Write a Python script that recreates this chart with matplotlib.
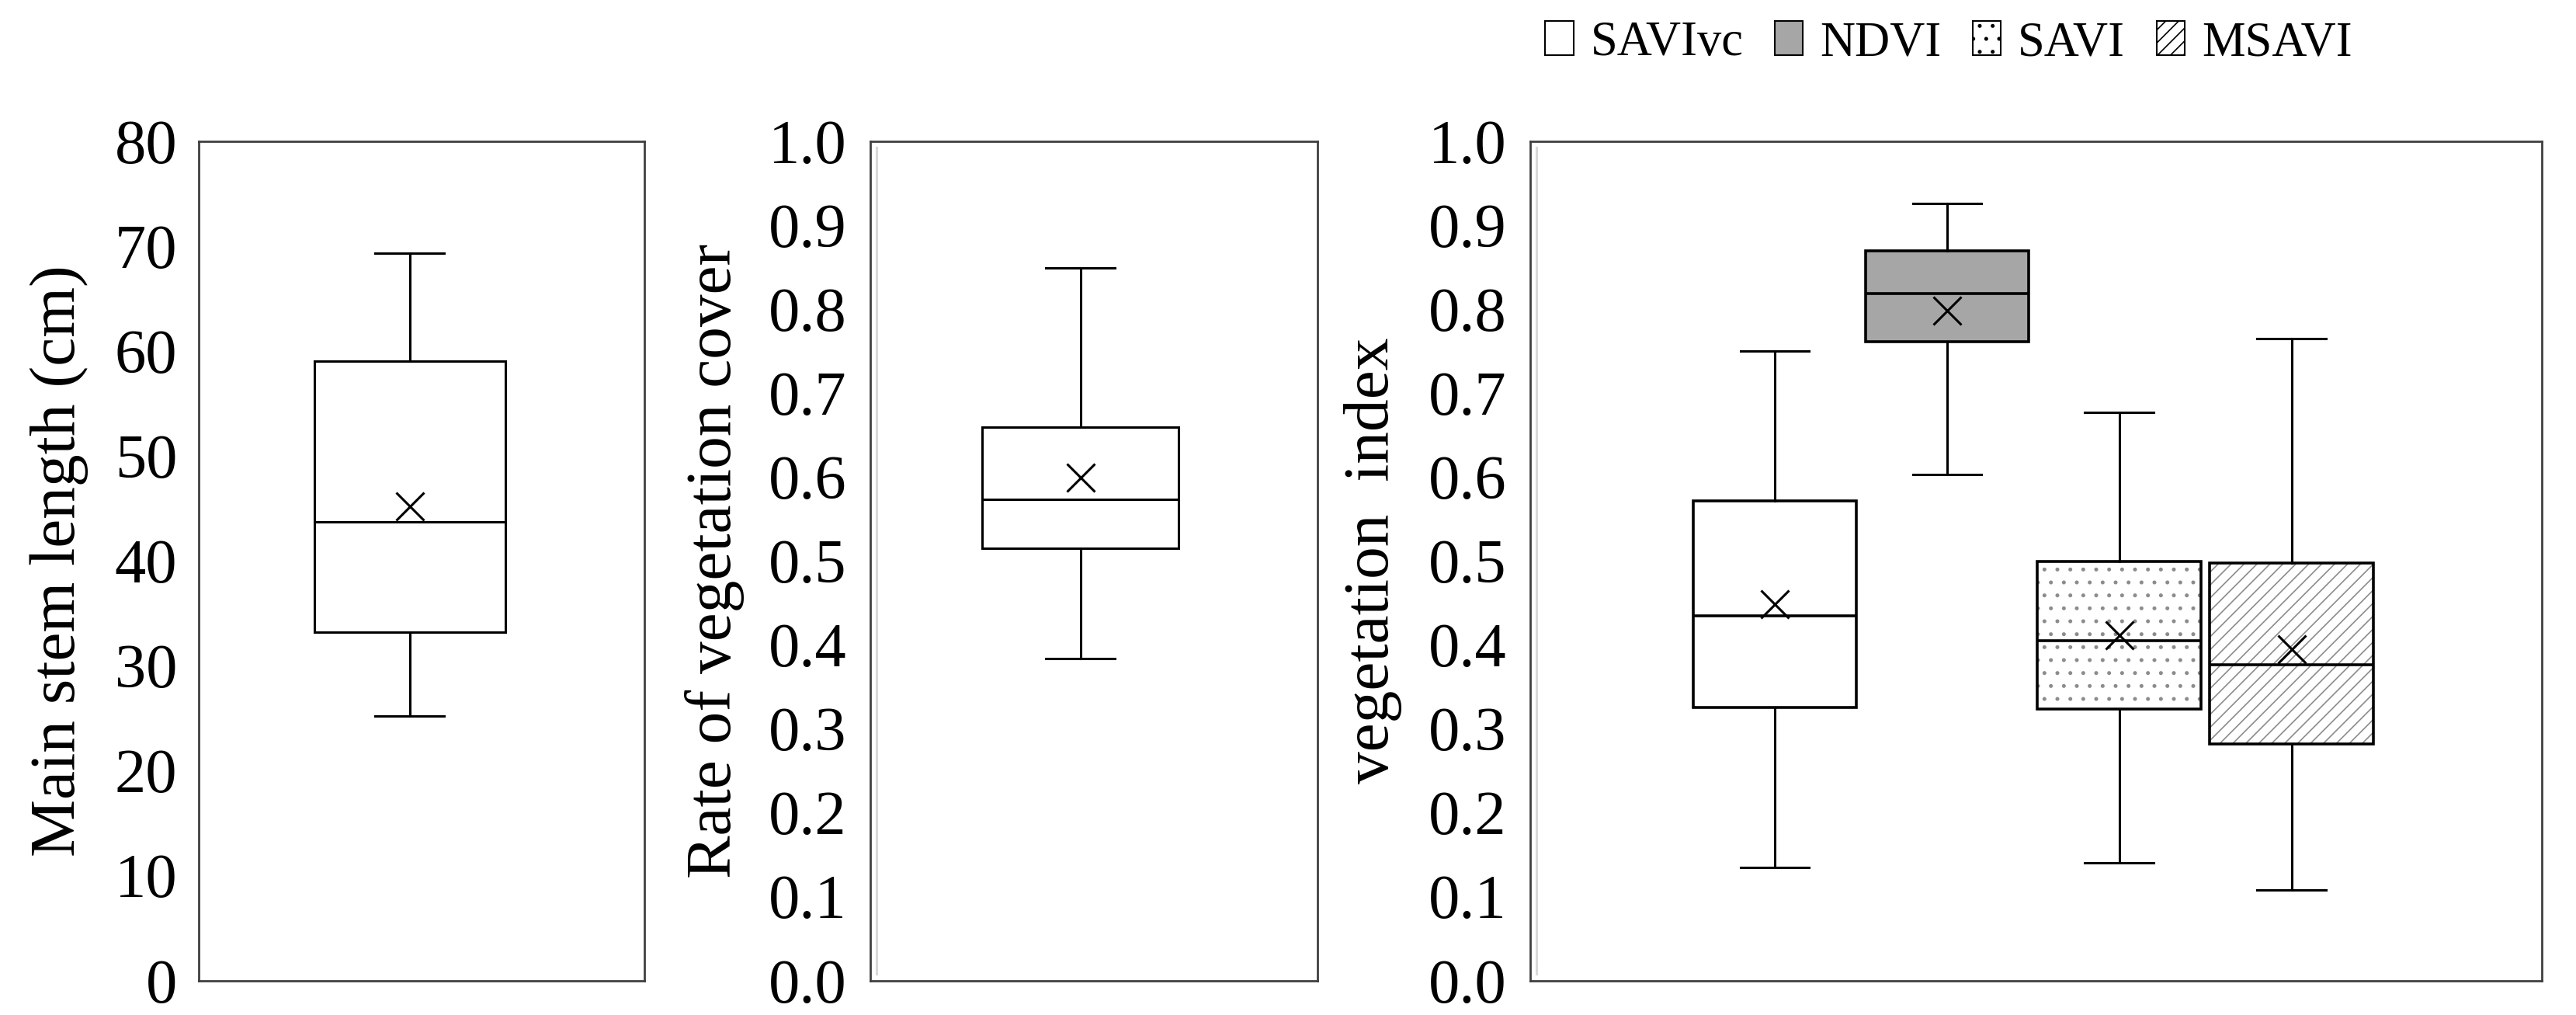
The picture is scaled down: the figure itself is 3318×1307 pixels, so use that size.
import matplotlib
matplotlib.use('Agg')
import matplotlib.pyplot as plt
import matplotlib.transforms as mtransforms
from matplotlib.patches import Patch, PathPatch
import numpy as np

plt.rcParams['font.family'] = ['Liberation Serif', 'DejaVu Serif']
plt.rcParams['hatch.linewidth'] = 1.2

# box stats: low whisker, Q1, median, Q3, high whisker, mean
stem_stats = [25.2, 33.2, 43.7, 59.0, 69.3, 45.2]
cover_stats = [0.384, 0.515, 0.573, 0.659, 0.849, 0.599]

vi_names = ['SAVIvc', 'NDVI', 'SAVI', 'MSAVI']
vi_low = [0.135, 0.603, 0.140, 0.108]
vi_q1 = [0.325, 0.761, 0.323, 0.282]
vi_med = [0.434, 0.818, 0.405, 0.376]
vi_q3 = [0.571, 0.869, 0.499, 0.497]
vi_high = [0.750, 0.926, 0.677, 0.765]
vi_mean = [0.448, 0.798, 0.411, 0.395]
vi_face = ['white', '#a6a6a6', 'white', 'white']
vi_hatch = [None, None, '.', '//']

TICK_FS = 58
LABEL_FS = 60
LW = 2.2
SPINE = '#404040'


def make_stat(s):
    return dict(whislo=s[0], q1=s[1], med=s[2], q3=s[3], whishi=s[4], mean=s[5], fliers=[])


def style_axes(ax, pad):
    for sp in ax.spines.values():
        sp.set_color(SPINE)
        sp.set_linewidth(2.0)
    ax.tick_params(axis='y', length=0, labelsize=TICK_FS, pad=pad)
    ax.set_xticks([])


def inner_line(ax):
    # faint grey line just inside the left frame, as in the source
    tr = ax.transAxes + mtransforms.ScaledTranslation(8 / 100, 0, fig.dpi_scale_trans)
    ax.plot([0, 0], [0.008, 0.992], transform=tr, color='#d9d9d9', lw=2.2, clip_on=False)


def draw(ax, stats, positions, widths, capw, faces, hatches, edge_lw):
    bp = ax.bxp(stats, positions=positions, widths=widths, showmeans=True, patch_artist=True,
                showfliers=False, capwidths=capw,
                medianprops=dict(color='black', lw=edge_lw),
                whiskerprops=dict(color='black', lw=LW),
                capprops=dict(color='black', lw=LW),
                meanprops=dict(marker='x', markersize=26, markeredgecolor='black',
                               markeredgewidth=2.2))
    for box, fc, h in zip(bp['boxes'], faces, hatches):
        box.set_edgecolor('black')
        box.set_linewidth(edge_lw)
        if h:
            box.set_facecolor('none')
            under = PathPatch(box.get_path(), transform=box.get_transform(), facecolor='white',
                              edgecolor='#8c8c8c', lw=0, hatch=h, zorder=box.get_zorder() - 0.5)
            ax.add_patch(under)
        else:
            box.set_facecolor(fc)
    return bp


fig = plt.figure(figsize=(33.18, 13.07), dpi=100)
ax1 = fig.add_axes([0.0772, 0.034, 0.1728, 0.827])
ax2 = fig.add_axes([0.3378, 0.034, 0.1737, 0.827])
ax3 = fig.add_axes([0.5940, 0.034, 0.3926, 0.827])

# panel 1
draw(ax1, [make_stat(stem_stats)], [1], 0.43, 0.155, ['white'], [None], LW)
ax1.set_xlim(1 - 0.474, 1 + 0.526)
ax1.set_ylim(0, 80)
ax1.set_yticks(np.arange(0, 81, 10))
ax1.set_ylabel('Main stem length (cm)', fontsize=LABEL_FS, labelpad=24)
style_axes(ax1, 20)

# panel 2
draw(ax2, [make_stat(cover_stats)], [1], 0.44, 0.155, ['white'], [None], LW)
ax2.set_xlim(1 - 0.47, 1 + 0.53)
ax2.set_ylim(0, 1)
ax2.set_yticks(np.arange(0, 1.01, 0.1))
ax2.set_yticklabels([f'{v:.1f}' for v in np.arange(0, 1.01, 0.1)])
ax2.set_ylabel('Rate of vegetation cover', fontsize=LABEL_FS, labelpad=22)
inner_line(ax2)
style_axes(ax2, 22)

# panel 3
vi_stats = [make_stat(s) for s in zip(vi_low, vi_q1, vi_med, vi_q3, vi_high, vi_mean)]
pos = np.arange(1, 5)
draw(ax3, vi_stats, pos, 0.95, 0.4, vi_face, vi_hatch, 2.6)
ax3.set_xlim(-0.42, 5.45)
ax3.set_ylim(0, 1)
ax3.set_yticks(np.arange(0, 1.01, 0.1))
ax3.set_yticklabels([f'{v:.1f}' for v in np.arange(0, 1.01, 0.1)])
ax3.set_ylabel('vegetation  index', fontsize=LABEL_FS, labelpad=24)
inner_line(ax3)
style_axes(ax3, 22)

handles = [Patch(facecolor=fc if h is None else 'white', edgecolor='black', hatch=h, lw=1.5)
           for fc, h in zip(vi_face, vi_hatch)]
fig.legend(handles, vi_names, loc='center', bbox_to_anchor=(0.7565, 0.957), ncol=4,
           frameon=False, fontsize=45, handlelength=0.58, handleheight=0.7,
           handletextpad=0.35, columnspacing=0.65)

fig.savefig('out.png', dpi=100)
